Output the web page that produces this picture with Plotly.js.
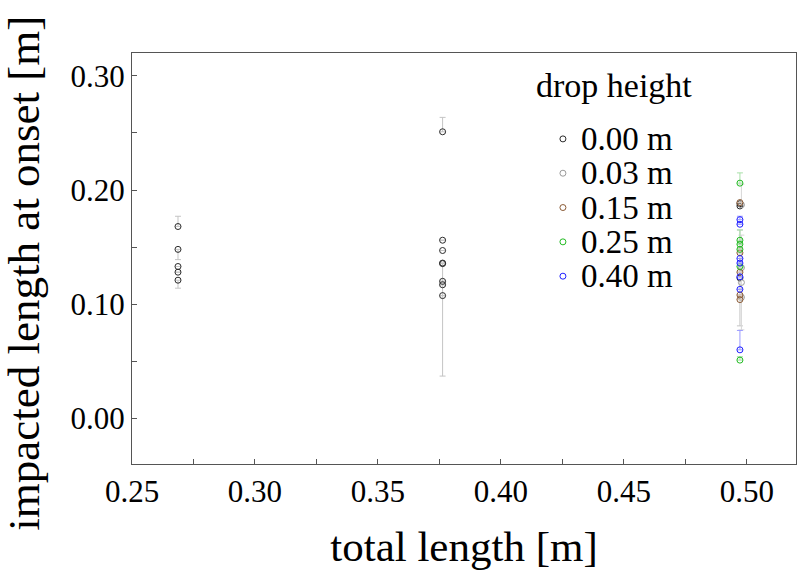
<!DOCTYPE html>
<html>
<head>
<meta charset="utf-8">
<script src="https://cdn.plot.ly/plotly-3.0.1.min.js"></script>
<style>
  html, body { margin: 0; padding: 0; background: #fff; }
  #plot { width: 797px; height: 580px; }
</style>
</head>
<body>
<div id="plot"></div>
<script>
// drop heights (legend order)
const dropLabels = ['0.00 m', '0.03 m', '0.15 m', '0.25 m', '0.40 m'];

// 0.00 m
const len000 = [0.2687, 0.2687, 0.2687, 0.2687, 0.2687,
                0.3763, 0.3763, 0.3763, 0.3763, 0.3763, 0.3763, 0.3763, 0.3763,
                0.4972, 0.4972, 0.4972];
const imp000 = [0.168, 0.148, 0.133, 0.128, 0.121,
                0.251, 0.156, 0.147, 0.136, 0.1355, 0.120, 0.117, 0.1075,
                0.188, 0.186, 0.123];
const up000  = [0.009, 0, 0, 0, 0,
                0.0126, 0, 0, 0, 0, 0, 0, 0,
                0, 0, 0.042];
const dn000  = [0, 0.009, 0, 0, 0.007,
                0, 0, 0, 0, 0.0985, 0, 0, 0,
                0, 0, 0.042];

// 0.03 m
const len003 = [0.4978, 0.4978, 0.4978, 0.4978];
const imp003 = [0.187, 0.132, 0.119, 0.106];
const up003  = [0.018, 0, 0.0415, 0];
const dn003  = [0, 0, 0.0415, 0];

// 0.15 m
const len015 = [0.4972, 0.4972, 0.4972, 0.4972, 0.4972];
const imp015 = [0.189, 0.145, 0.128, 0.108, 0.104];
const up015  = [0, 0.004, 0, 0, 0];
const dn015  = [0, 0, 0, 0, 0];

// 0.25 m
const len025 = [0.4972, 0.4972, 0.4972, 0.4972, 0.4972, 0.4972];
const imp025 = [0.206, 0.156, 0.1525, 0.148, 0.133, 0.051];
const up025  = [0.009, 0.009, 0, 0, 0, 0.003];
const dn025  = [0, 0, 0, 0, 0, 0];

// 0.40 m
const len040 = [0.4972, 0.4972, 0.4972, 0.4972, 0.4972, 0.4972, 0.4972];
const imp040 = [0.174, 0.170, 0.140, 0.136, 0.124, 0.113, 0.060];
const up040  = [0.003, 0, 0, 0, 0, 0, 0.017];
const dn040  = [0, 0, 0, 0, 0, 0, 0];

const FONT = '"Liberation Serif", "Times New Roman", serif';
const markColors = ['#2a2a2a', '#9a9a9a', '#8a5a35', '#22bb22', '#1f1fff'];
const barColors  = ['#c4c4c4', '#d6d6d6', '#d8c6b6', '#a8e0a8', '#9a9aff'];

const series = [
    [len000, imp000, up000, dn000],
    [len003, imp003, up003, dn003],
    [len015, imp015, up015, dn015],
    [len025, imp025, up025, dn025],
    [len040, imp040, up040, dn040]
];

const traces = series.map((s, i) => ({
    x: s[0], y: s[1],
    type: 'scatter',
    mode: 'markers',
    name: dropLabels[i],
    showlegend: false,
    marker: {symbol: 'circle-open', size: 6, color: markColors[i], line: {width: 1, color: markColors[i]}},
    error_y: {
        type: 'data', symmetric: false,
        array: s[2], arrayminus: s[3],
        color: barColors[i], thickness: 1, width: 3
    }
}));

// hand-made legend (plotly's legend rows are too tall for this font size)
const legX = 0.649, legY0 = 0.791, legStep = 0.0835;
const shapes = [], annotations = [];
annotations.push({
    xref: 'paper', yref: 'paper', x: 0.605, y: 0.92,
    xanchor: 'left', yanchor: 'middle', showarrow: false,
    text: 'drop height', font: {family: FONT, size: 34, color: '#000'}
});
dropLabels.forEach((lab, i) => {
    const yy = legY0 - i * legStep;
    shapes.push({
        type: 'circle', xref: 'paper', yref: 'paper',
        xsizemode: 'pixel', ysizemode: 'pixel',
        xanchor: legX, yanchor: yy,
        x0: -3, x1: 3, y0: -3, y1: 3,
        line: {color: markColors[i], width: 1}
    });
    annotations.push({
        xref: 'paper', yref: 'paper', x: legX + 0.024, y: yy,
        xanchor: 'left', yanchor: 'middle', showarrow: false,
        text: lab, font: {family: FONT, size: 33, color: '#000'}
    });
});

// y title as a rotated annotation so it can sit a little below the axis centre
annotations.push({
    xref: 'paper', yref: 'paper', x: -0.163, y: 0.465,
    xanchor: 'center', yanchor: 'middle', showarrow: false, textangle: -90,
    text: 'impacted length at onset [m]', font: {family: FONT, size: 45, color: '#000'}
});

const axisCommon = {
    showgrid: false, zeroline: false,
    showline: true, linecolor: '#555', linewidth: 1, mirror: true,
    ticks: 'inside', ticklen: 5, tickcolor: '#555', tickwidth: 1,
    tickformat: '.2f',
    tickfont: {family: FONT, size: 31, color: '#000'}
};

const layout = {
    width: 797, height: 580,
    margin: {l: 132, r: 1, t: 53, b: 116},
    paper_bgcolor: '#fff', plot_bgcolor: '#fff',
    showlegend: false,
    xaxis: Object.assign({}, axisCommon, {
        range: [0.25, 0.52], tick0: 0.25, dtick: 0.05,
        minor: {dtick: 0.025, ticks: 'inside', ticklen: 5, tickcolor: '#555'},
        title: {text: 'total length [m]', standoff: 22, font: {family: FONT, size: 43, color: '#000'}}
    }),
    yaxis: Object.assign({}, axisCommon, {
        range: [-0.04, 0.32], tick0: 0, dtick: 0.1,
        minor: {dtick: 0.05, ticks: 'inside', ticklen: 5, tickcolor: '#555'}
    }),
    shapes: shapes,
    annotations: annotations
};

Plotly.newPlot('plot', traces, layout, {displayModeBar: false, staticPlot: true});
</script>
</body>
</html>
